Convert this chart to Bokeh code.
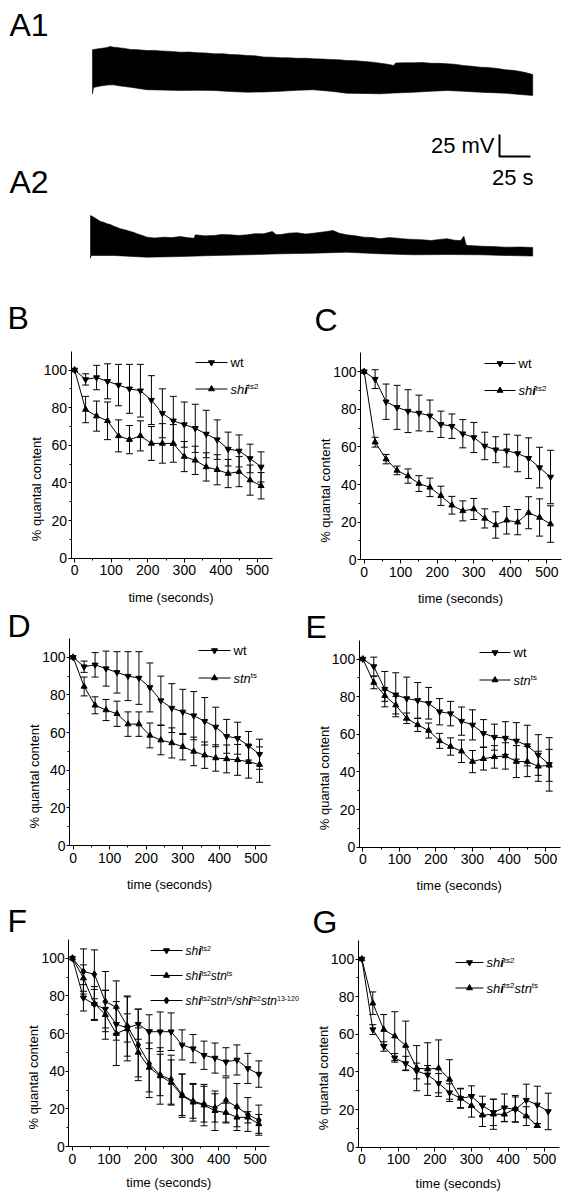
import math
from bokeh.plotting import figure
from bokeh.models import Range1d, Label, Whisker, ColumnDataSource, TeeHead, FixedTicker
from bokeh.layouts import column, row
from bokeh.embed import file_html
from bokeh.resources import INLINE

FONT = "Liberation Sans"
BL = 0.37  # baseline correction of svg text, in em

# ---------------- data ----------------
time_s = [0, 30, 60, 90, 120, 150, 180, 210, 240, 270, 300, 330, 360, 390, 420, 450, 480, 510]
x_ticks = [0, 100, 200, 300, 400, 500]
x_minor = [50, 150, 250, 350, 450]
y_ticks = [0, 20, 40, 60, 80, 100]
y_minor = [10, 30, 50, 70, 90]

wt_BD = [100, 95, 96, 94, 92, 90, 89, 84, 77, 73, 71, 69, 66, 63, 58, 57, 53, 48.5]
wt_BD_err = [0, 3, 6.5, 9.3, 11, 13, 14, 13, 13, 13, 12, 12.8, 12.6, 10.5, 9, 8.5, 7.6, 8]
shi_B = [100, 79, 75.5, 73, 65, 63, 65, 61, 61, 61, 54, 52, 48.5, 47, 45, 46, 41.5, 38.5]
shi_B_err = [0, 7, 8, 10, 8.5, 7.5, 8, 9, 10.5, 10, 8, 7.5, 7.5, 8, 7.5, 8, 8, 7]

wt_CE = [100, 96, 84, 81, 79, 78, 76.5, 72, 71, 67, 65, 60.5, 58.5, 58, 56.5, 54, 49, 44]
wt_CE_err = [0, 5, 9.4, 11.7, 11.4, 9.5, 8.4, 7, 6.5, 7.5, 8, 7.3, 6.9, 8.7, 9.7, 10.8, 10.8, 14.2]
shi_C = [100, 62.5, 53.5, 47.5, 44.5, 40.5, 38.5, 34, 29, 26, 27, 22, 18.5, 21, 20, 25, 22.5, 19]
shi_C_err = [0, 2.6, 2.5, 2.3, 3.8, 4.2, 4.9, 5.1, 4.7, 5.3, 5.6, 5.1, 7, 7.3, 6.7, 8.5, 9.9, 9.7]

stn_D = [100, 84.5, 74.5, 72, 70, 64.5, 64.5, 58.5, 56, 54.5, 52.5, 50, 48, 46.5, 46, 45.5, 44.5, 43]
stn_D_err = [0, 5, 4.5, 5.6, 6.7, 6.5, 6.5, 6.6, 7.8, 8, 7, 7.6, 7, 7, 7.4, 8.2, 8.7, 9.4]

stn_E = [100, 87.5, 80.5, 75.5, 68.5, 65, 62, 56.5, 53.5, 51, 45.5, 47, 48, 48.5, 45.5, 45.5, 43, 43.5]
stn_E_err = [0, 3.3, 3, 4.7, 2.8, 3.5, 4, 4, 4.6, 6, 5.9, 6, 6, 7, 8.5, 8, 8, 8.5]

shistn_F = [100, 89.5, 76, 70, 60, 62.5, 50, 42, 37.5, 34, 27, 23.5, 22, 19, 18, 15.5, 15.5, 12]
shistn_F_err = [0, 7, 9, 13, 17, 17, 13, 13, 15, 12, 11.5, 10, 11, 10.5, 5, 5, 3, 5]
hetero_F = [100, 93, 91.5, 77, 74, 64, 54, 44, 38, 35.5, 27.5, 24, 22.5, 20.5, 24.5, 21, 17, 14]
hetero_F_err = [0, 12, 13, 16, 14, 16, 19, 18, 11, 13, 11, 9, 9.5, 7.5, 12, 12.5, 9, 8]

time_G = [0, 30, 60, 90, 120, 150, 180, 210, 240, 270, 300, 330, 360, 390, 420, 450, 480]
shistn_G = [100, 76.5, 62.5, 59, 54, 42, 41.5, 42, 36, 26, 22, 17, 17.5, 17.5, 20.5, 16.5, 11.5]
shistn_G_err = [0, 6, 8, 13, 13, 12, 14, 15, 10.5, 5, 6, 6, 8, 4, 7, 5, 1]

# voltage traces: envelope (top / bottom) in mV above each trace's baseline, time in s
A1_top_t = [0, 3, 6.5, 9, 12, 14, 17, 20, 22.6, 26, 30.6, 37, 44, 50, 55, 63, 71, 78, 85, 92, 98, 105,
            111, 118, 125, 131, 138, 145, 152, 158, 165, 172, 178, 185, 192, 199, 205, 212, 219, 226,
            232, 238, 243, 244.5, 252, 259, 266, 273, 280, 286, 292, 299, 306, 313, 318, 323, 328,
            333, 339, 345, 350, 355]
A1_top = [57.6, 58.4, 59.1, 59.6, 60.2, 61.5, 60.6, 60.1, 59.7, 59.2, 58, 57.6, 56.8, 56.9, 56.3, 55.8,
          54.9, 55, 54.2, 53.9, 53, 53.2, 52.3, 51.9, 51.1, 50.8, 49.4, 49.2, 48.5, 48.6, 47.9, 48.1,
          47.4, 47.2, 46.6, 46.2, 45.5, 45.3, 44.3, 43.6, 42.4, 41.2, 39.8, 42.6, 42.9, 42.8, 43.1,
          42.3, 42.2, 41.7, 41.2, 39.8, 38.9, 37.8, 37.6, 36.9, 36.1, 34.9, 34.3, 33, 31.4, 29.5]
A1_bot_t = [0, 0.8, 6.5, 12, 17, 22.6, 30.6, 44, 55, 71, 85, 98, 111, 125, 138, 152, 165, 178, 192,
            205, 219, 232, 243, 259, 273, 286, 299, 313, 333, 345, 355]
A1_bot = [7.6, 14.8, 16.5, 17.6, 17.8, 16.5, 15.1, 12.2, 11.9, 11.4, 11.6, 11.4, 10.2, 9.4, 9.7, 10.6,
          11.6, 12.2, 10.6, 8.3, 8, 7.6, 8.5, 9.4, 10.5, 11.4, 10.5, 9.4, 8.3, 6.8, 5.7]

A2_top_t = [-1.6, 1, 4, 6.5, 9, 11.8, 14.5, 17.2, 20, 22.6, 26, 30.6, 33, 36, 40, 44, 50, 57.5, 64, 71,
            76, 81.7, 83, 90, 98, 104, 111, 118, 125, 131, 138, 145, 148, 152, 158, 165, 172, 178,
            184, 189, 194, 199, 205, 212, 219, 226, 232, 239, 246, 252, 259, 266, 273, 280, 286,
            292, 297, 299.5, 301, 302, 308, 313, 323, 333, 345, 355]
A2_top = [51.1, 49.2, 46.5, 44.3, 43.5, 41.7, 40.8, 39, 37.5, 36, 35, 33, 32, 30.3, 28.5, 26.5, 25.5,
          26.5, 26, 27.3, 26, 25.3, 29.2, 28, 28.4, 29.5, 29.2, 28.5, 29.2, 30.5, 30.3, 33, 29.5, 29.5,
          31, 31.5, 30, 31, 32, 33, 34.1, 31, 29.2, 28, 26.5, 26, 24.7, 26, 25.3, 24.5, 23.9, 23.5,
          22.7, 24, 24.7, 23, 22.7, 27.6, 19, 17, 16.8, 16.3, 15.8, 15.1, 15.3, 14.8]
A2_bot_t = [-1.6, -1.2, 17, 44, 71, 98, 125, 152, 178, 205, 232, 259, 286, 313, 333, 355]
A2_bot = [2.6, 5.7, 5.7, 3.8, 4.5, 5.7, 6.5, 7.6, 8.3, 9.4, 7.6, 6.5, 6.8, 6.5, 5.7, 5.1]

scale_mV = 25
scale_s = 25

# ---------------- helpers ----------------
XS = 201 / 550.0   # px per second in the panels
YS = 207 / 110.0   # px per % in the panels


def base_fig(w, h, xr, yr):
    p = figure(width=w, height=h, x_range=Range1d(*xr), y_range=Range1d(*yr),
               toolbar_location=None, output_backend="svg",
               min_border_left=0, min_border_right=0, min_border_top=0, min_border_bottom=0)
    p.outline_line_color = None
    p.xgrid.visible = False
    p.ygrid.visible = False
    p.background_fill_color = "white"
    p.border_fill_color = "white"
    return p


W = {'w': .722, 't': .278, 's': .5, 'h': .556, 'i': .222, 'n': .556, '1': .556, '2': .556,
     '3': .556, '0': .556, '-': .333, '/': .278, ' ': .278}


def text_width(text, size, bold=False):
    if bold and text == "i":
        return .278 * size
    return sum(W.get(c, .556) for c in text) * size


class Panel:
    """A panel whose frame fills the whole figure; axes sit at fixed data locations."""

    def __init__(self, PL, PT, w, h, fl, ft):
        self.fl, self.ft = fl, ft
        xr = (-10 - (fl - PL) / XS, -10 + (PL + w - fl) / XS)
        yr = (110 - (PT + h - ft) / YS, 110 + (ft - PT) / YS)
        self.p = base_fig(w, h, xr, yr)
        p = self.p
        p.xaxis.fixed_location = 0
        p.yaxis.fixed_location = -10
        p.xaxis.bounds = (-16, 540)
        p.yaxis.bounds = (0, 110)
        for ax in (p.xaxis, p.yaxis):
            ax.axis_line_color = "black"
            ax.axis_line_width = 1
            ax.major_tick_line_color = "black"
            ax.minor_tick_line_color = "black"
            ax.major_tick_in = 0
            ax.minor_tick_in = 0
            ax.major_label_text_font = FONT
            ax.major_label_text_font_size = "14px"
            ax.major_label_text_color = "black"
        p.xaxis.ticker = FixedTicker(ticks=x_ticks, minor_ticks=x_minor)
        p.yaxis.ticker = FixedTicker(ticks=y_ticks, minor_ticks=y_minor)
        p.xaxis.major_tick_out = 4
        p.xaxis.minor_tick_out = 2
        p.xaxis.major_label_standoff = 3
        p.yaxis.major_tick_out = 3
        p.yaxis.minor_tick_out = 2
        p.yaxis.major_label_standoff = 1
        p.add_layout(Label(x=self.X(fl - 30 - BL * 13), y=self.Y(ft + 138), text="% quantal content",
                           angle=math.pi / 2, text_align="center", text_baseline="alphabetic",
                           text_font=FONT, text_font_size="13px", text_color="black"))

    def X(self, px):
        return -10 + (px - self.fl) / XS

    def Y(self, py):
        return 110 - (py - self.ft) / YS

    def label(self, text, px, py, fs, style="normal", align="left"):
        self.p.add_layout(Label(x=self.X(px), y=self.Y(py - BL * fs), text=text, text_font=FONT,
                                text_font_size=f"{fs}px", text_font_style=style,
                                text_baseline="alphabetic", text_align=align, text_color="black"))

    def xlabel(self, off):
        self.label("time (seconds)", self.fl + 100, self.ft + 207 + off, 13, align="center")

    def letter(self, text, px, py):
        self.label(text, px, py, 32)

    def series(self, t, v, e, marker, size=6):
        p = self.p
        xs = [a for a, b in zip(t, e) if b > 0]
        us = [c + b for c, b in zip(v, e) if b > 0]
        ls = [c - b for c, b in zip(v, e) if b > 0]
        src = ColumnDataSource(dict(x=xs, u=us, l=ls))
        p.add_layout(Whisker(source=src, base="x", upper="u", lower="l", line_color="black",
                             line_width=1,
                             upper_head=TeeHead(size=7, line_color="black", line_width=1),
                             lower_head=TeeHead(size=7, line_color="black", line_width=1)))
        p.line(t, v, line_color="black", line_width=1)
        p.scatter(t, v, marker=marker, size=size, fill_color="black", line_color="black")

    def legend_row(self, x_start, x_end, py, marker, pieces, fs=13, sfs=8, msize=6):
        p = self.p
        p.line([self.X(x_start), self.X(x_end)], [self.Y(py), self.Y(py)], line_color="black", line_width=1)
        p.scatter([self.X((x_start + x_end) / 2.0)], [self.Y(py)], marker=marker, size=msize,
                  fill_color="black", line_color="black")
        x = x_end + 3
        for text, kind in pieces:
            if kind == "sup":
                size, base, style = sfs, py + 0.5, "normal"
            else:
                size, base = fs, py + 5
                style = {"n": "normal", "i": "italic", "bi": "bold italic"}[kind]
            self.label(text, x, base, size, style)
            x += text_width(text, size, kind == "bi")


SHI = [("sh", "i"), ("i", "bi"), ("ts2", "sup")]
STN = [("stn", "i"), ("ts", "sup")]

# ---------------- top: traces ----------------
T_PX = 1.24   # px per second
T_PY = 0.88   # px per mV
T_X0 = 92     # page x of trace start
TXR = ((0 - T_X0) / T_PX, (565 - T_X0) / T_PX)
TYR = (0, 300 / T_PY)
top = base_fig(565, 300, TXR, TYR)
top.xaxis.visible = False
top.yaxis.visible = False


def TX(px):
    return (px - T_X0) / T_PX


def TY(py):
    return TYR[1] - py / T_PY


def top_label(text, px, py, fs, align="left"):
    top.add_layout(Label(x=TX(px), y=TY(py - BL * fs), text=text, text_font=FONT, text_font_size=f"{fs}px",
                         text_align=align, text_baseline="alphabetic", text_color="black"))


A1_base = TY(100)
A2_base = TY(260)
top.patch(A1_top_t + A1_bot_t[::-1], [A1_base + v for v in A1_top] + [A1_base + v for v in A1_bot[::-1]],
          fill_color="black", line_color="black", line_width=0.6)
top.patch(A2_top_t + A2_bot_t[::-1], [A2_base + v for v in A2_top] + [A2_base + v for v in A2_bot[::-1]],
          fill_color="black", line_color="black", line_width=0.6)
sb_t, sb_v = TX(499), TY(156)
top.line([sb_t, sb_t, sb_t + scale_s], [sb_v + scale_mV, sb_v, sb_v], line_color="black", line_width=2)
top_label("A1", 9, 36, 32)
top_label("A2", 9, 193, 32)
top_label(f"{scale_mV} mV", 494, 153, 22, "right")
top_label(f"{scale_s} s", 533, 185, 22, "right")

# ---------------- panels ----------------
B = Panel(0, 300, 305, 308, 70.5, 350.7)
C = Panel(305, 300, 260, 308, 360, 352.3)
D = Panel(0, 608, 305, 294, 69, 638)
E = Panel(305, 608, 260, 294, 358.7, 639.7)
F = Panel(0, 902, 305, 297, 68.3, 939)
G = Panel(305, 902, 260, 297, 357.7, 939.7)

# B
B.series(time_s, wt_BD, wt_BD_err, "inverted_triangle")
B.series(time_s, shi_B, shi_B_err, "triangle")
B.legend_row(195, 227, 362, "inverted_triangle", [("wt", "n")])
B.legend_row(195, 227, 388.5, "triangle", SHI)
B.letter("B", 7, 329.5)
B.xlabel(44)
# C
C.series(time_s, wt_CE, wt_CE_err, "inverted_triangle")
C.series(time_s, shi_C, shi_C_err, "triangle")
C.legend_row(484, 515, 363, "inverted_triangle", [("wt", "n")])
C.legend_row(484, 515, 390, "triangle", SHI)
C.letter("C", 314, 331)
C.xlabel(44)
# D
D.series(time_s, wt_BD, wt_BD_err, "inverted_triangle")
D.series(time_s, stn_D, stn_D_err, "triangle")
D.legend_row(198, 230, 650, "inverted_triangle", [("wt", "n")])
D.legend_row(198, 230, 677.5, "triangle", STN)
D.letter("D", 7, 637.5)
D.xlabel(44)
# E
E.series(time_s, wt_CE, wt_CE_err, "inverted_triangle")
E.series(time_s, stn_E, stn_E_err, "triangle")
E.legend_row(479, 510, 652, "inverted_triangle", [("wt", "n")])
E.legend_row(479, 510, 679.5, "triangle", STN)
E.letter("E", 305, 638)
E.xlabel(43)
# F
F.series(time_s, shi_B, shi_B_err, "inverted_triangle")
F.series(time_s, shistn_F, shistn_F_err, "triangle")
F.series(time_s, hetero_F, hetero_F_err, "diamond", size=7)
F.legend_row(150, 182, 950, "inverted_triangle", SHI, fs=12, sfs=7)
F.legend_row(150, 182, 975, "triangle", SHI + STN, fs=12, sfs=7)
F.legend_row(150, 182, 1000, "diamond",
             SHI + STN + [("/", "i")] + SHI + [("stn", "i"), ("13-120", "sup")], fs=12, sfs=7, msize=7)
F.letter("F", 7, 932)
F.xlabel(41)
# G
G.series(time_s, shi_C, shi_C_err, "inverted_triangle")
G.series(time_G, shistn_G, shistn_G_err, "triangle")
G.legend_row(455, 483, 962, "inverted_triangle", SHI)
G.legend_row(455, 483, 987.5, "triangle", SHI + STN)
G.letter("G", 312, 933)
G.xlabel(41)

layout = column(top, row(B.p, C.p), row(D.p, E.p), row(F.p, G.p))
open("out.html", "w").write(file_html(layout, INLINE))
